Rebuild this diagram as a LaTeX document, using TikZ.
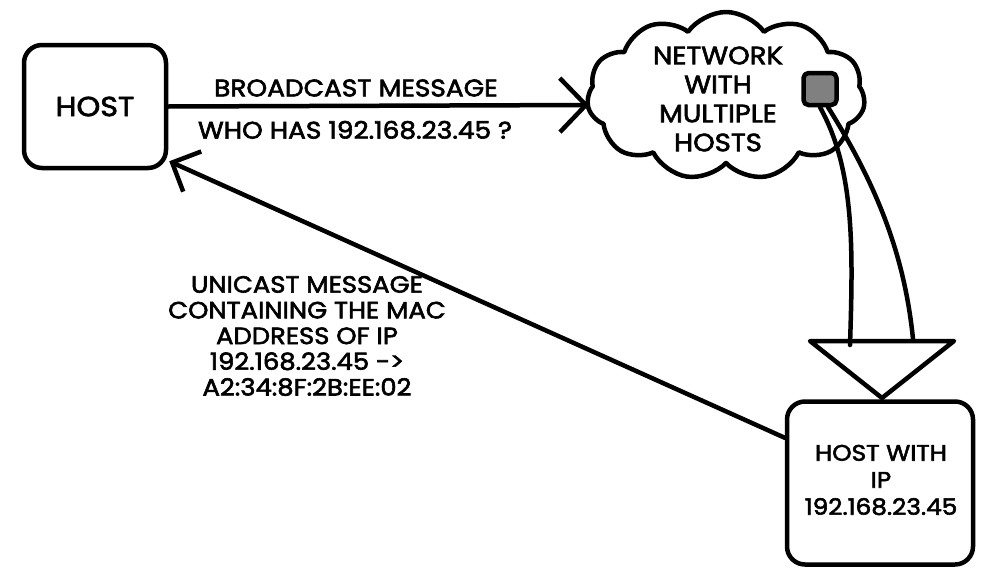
\documentclass[tikz,border=0pt]{standalone}
\usepackage{fontspec}
\setmainfont{Poppins}[FakeStretch=1.1, FakeBold=2.5]
\usetikzlibrary{shapes.symbols,arrows.meta,calc}
\begin{document}
\begin{tikzpicture}[x=1pt,y=-1pt,
  ln/.style={line width=4.5pt, line cap=round, line join=round},
  box/.style={ln, draw, rounded corners=18pt, inner sep=0pt, align=center},
  lbl/.style={font=\fontsize{24}{26}\selectfont, align=center, inner sep=0pt},
  barb/.style={-{Straight Barb[length=26pt,width=54pt,line width=4.5pt]}}]
\useasboundingbox (0,0) rectangle (1000,581);
\node[box, minimum width=142pt, minimum height=123pt, font=\fontsize{27.5}{30}\selectfont] (host) at (95,106.5) {HOST};
\node[cloud, cloud puffs=11, cloud puff arc=110, aspect=1.6, draw, ln, minimum width=278pt, minimum height=168pt, inner sep=0pt] (net) at (726,96) {};
\node[lbl, font=\fontsize{25}{29}\selectfont] (nettext) at (718,99) {NETWORK\\WITH\\MULTIPLE\\HOSTS};
\node[ln, draw, fill=black!50, rounded corners=5pt, minimum width=33pt, minimum height=32pt, inner sep=0pt] (sq) at (820,89) {};
\node[box, minimum width=186pt, minimum height=163pt] (hostip) at (880,483) {};
\node[lbl, font=\fontsize{22.5}{27}\selectfont] (hostiptext) at (881,480) {HOST WITH\\IP\\192.168.23.45};
\coordinate (tl) at (810,341);
\coordinate (tr) at (954,341);
\coordinate (tb) at (882,398);
\draw[ln] (tl) -- (tr) -- (tb) -- cycle;
\coordinate (e1) at (850,345);
\coordinate (e2) at (913,339);
\draw[ln] (sq.south) .. controls (855,170) and (853,250) .. (e1);
\draw[ln] ($(sq.south)+(8,0)$) .. controls (880,190) and (905,260) .. (e2);
\coordinate (netin) at (589,105);
\draw[ln, barb] (host.east) -- (netin);
\node[lbl] (bm) at (356,88) {BROADCAST MESSAGE};
\node[lbl] (who) at (355,130) {WHO HAS 192.168.23.45 ?};
\coordinate (hostcorner) at ($(host.south east)+(1,-9)$);
\coordinate (ipside) at ($(hostip.north west)!0.23!(hostip.south west)$);
\draw[ln, -{Straight Barb[length=22pt,width=44pt,line width=4.5pt]}] (ipside) -- (hostcorner);
\node[lbl, font=\fontsize{23.5}{25.7}\selectfont] (uni) at (307,336) {UNICAST MESSAGE\\CONTAINING THE MAC\\ADDRESS OF IP\\192.168.23.45 ->\\A2:34:8F:2B:EE:02};
\end{tikzpicture}
\end{document}
